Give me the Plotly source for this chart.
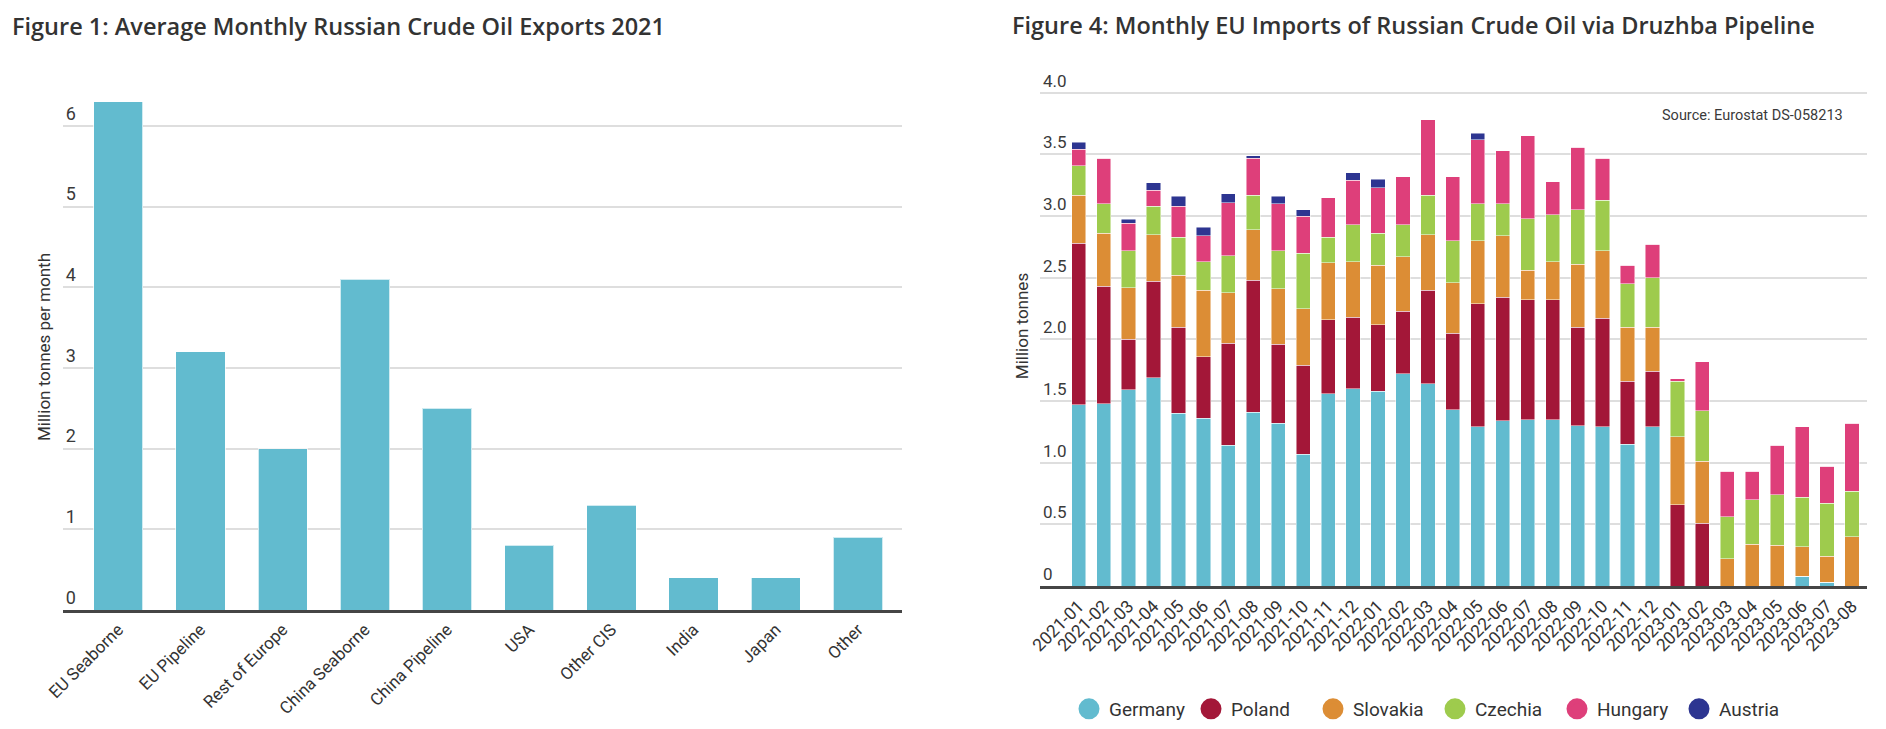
import plotly.graph_objects as go

# page body has an 8px default margin; the figure is sized to fit inside it
OX, OY = 8, 8
FW, FH = 1870, 713


def px(x):
    return (x - OX) / FW


def py(y):
    return 1 - (y - OY) / FH


# ---------------- Figure 1 data ----------------
destinations = ["EU Seaborne", "EU Pipeline", "Rest of Europe", "China Seaborne",
                "China Pipeline", "USA", "Other CIS", "India", "Japan", "Other"]
exports_2021 = [6.3, 3.2, 2.0, 4.1, 2.5, 0.8, 1.3, 0.4, 0.4, 0.9]
fig1_ticks = [0, 1, 2, 3, 4, 5, 6]
fig1_ticklabels = ["0", "1", "2", "3", "4", "5", "6"]

# ---------------- Figure 4 data ----------------
months = ["2021-01", "2021-02", "2021-03", "2021-04", "2021-05", "2021-06", "2021-07", "2021-08",
          "2021-09", "2021-10", "2021-11", "2021-12", "2022-01", "2022-02", "2022-03", "2022-04",
          "2022-05", "2022-06", "2022-07", "2022-08", "2022-09", "2022-10", "2022-11", "2022-12",
          "2023-01", "2023-02", "2023-03", "2023-04", "2023-05", "2023-06", "2023-07", "2023-08"]
germany = [1.47, 1.48, 1.59, 1.69, 1.40, 1.36, 1.14, 1.41, 1.32, 1.07, 1.56, 1.60, 1.58, 1.72, 1.64, 1.43,
           1.29, 1.34, 1.35, 1.35, 1.30, 1.29, 1.15, 1.29, 0, 0, 0, 0, 0, 0.08, 0.03, 0]
poland = [1.31, 0.95, 0.41, 0.78, 0.70, 0.50, 0.83, 1.07, 0.64, 0.72, 0.60, 0.58, 0.54, 0.51, 0.76, 0.62,
          1.00, 1.00, 0.97, 0.97, 0.80, 0.88, 0.51, 0.45, 0.66, 0.51, 0, 0, 0, 0, 0, 0]
slovakia = [0.39, 0.43, 0.42, 0.38, 0.42, 0.54, 0.41, 0.41, 0.45, 0.46, 0.46, 0.45, 0.48, 0.44, 0.45, 0.41,
            0.51, 0.50, 0.24, 0.31, 0.51, 0.55, 0.44, 0.36, 0.55, 0.50, 0.22, 0.34, 0.33, 0.24, 0.21, 0.40]
czechia = [0.24, 0.24, 0.30, 0.23, 0.31, 0.23, 0.30, 0.28, 0.31, 0.45, 0.21, 0.30, 0.26, 0.26, 0.32, 0.34,
           0.30, 0.26, 0.42, 0.38, 0.44, 0.41, 0.35, 0.40, 0.45, 0.41, 0.34, 0.36, 0.41, 0.40, 0.43, 0.37]
hungary = [0.13, 0.37, 0.22, 0.13, 0.25, 0.21, 0.43, 0.30, 0.38, 0.30, 0.32, 0.36, 0.37, 0.39, 0.61, 0.52,
           0.52, 0.43, 0.67, 0.27, 0.51, 0.34, 0.15, 0.27, 0.02, 0.40, 0.37, 0.23, 0.40, 0.57, 0.30, 0.55]
austria = [0.06, 0, 0.035, 0.06, 0.08, 0.07, 0.07, 0.02, 0.06, 0.05, 0, 0.06, 0.07, 0, 0, 0,
           0.05, 0, 0, 0, 0, 0, 0, 0, 0, 0, 0, 0, 0, 0, 0, 0]
countries = ["Germany", "Poland", "Slovakia", "Czechia", "Hungary", "Austria"]
country_values = [germany, poland, slovakia, czechia, hungary, austria]
country_colors = ["#62bbcf", "#a31738", "#dc8d35", "#9ecb4d", "#de3f7a", "#2d3591"]
fig4_ticks = [0, 0.5, 1.0, 1.5, 2.0, 2.5, 3.0, 3.5, 4.0]
fig4_ticklabels = ["0", "0.5", "1.0", "1.5", "2.0", "2.5", "3.0", "3.5", "4.0"]

FONT = "Roboto"
TITLE_FONT = "Open Sans"
TXT = "#333333"
GRID = "#dedede"
AXIS = "#454545"

fig = go.Figure()

fig.add_trace(go.Bar(
    x=destinations, y=exports_2021, width=0.6,
    marker=dict(color="#62bbcf", line=dict(color="rgba(255,255,255,0.7)", width=1)),
    xaxis="x", yaxis="y", showlegend=False, name="Exports"))

for name, vals, col in zip(countries, country_values, country_colors):
    fig.add_trace(go.Bar(
        x=months, y=vals, width=0.57, name=name, legendgroup=name,
        marker=dict(color=col, line=dict(color="rgba(255,255,255,0.6)", width=0.8)),
        xaxis="x2", yaxis="y2", showlegend=False))
    fig.add_trace(go.Scatter(
        x=[None], y=[None], mode="markers", name=name, legendgroup=name,
        marker=dict(size=16, color=col, line=dict(color=col, width=5)),
        xaxis="x2", yaxis="y2", showlegend=True))

fig.update_layout(
    width=FW, height=FH, autosize=False,
    margin=dict(l=0, r=0, t=0, b=0, pad=0, autoexpand=False),
    paper_bgcolor="white", plot_bgcolor="white",
    barmode="stack",
    font=dict(family=FONT, color=TXT, size=16),
    xaxis=dict(domain=[px(62.7), px(902)], type="category", range=[-0.676, 9.535],
               tickangle=-45, tickfont=dict(size=17, color=TXT), ticks="",
               showline=True, linecolor=AXIS, linewidth=3, showgrid=False,
               automargin=False, fixedrange=True),
    yaxis=dict(domain=[py(610), py(84)], range=[0, 6.52],
               tickvals=fig1_ticks, ticktext=fig1_ticklabels,
               ticklabelposition="inside top", tickfont=dict(size=18, color="#3a3a3a"),
               ticks="", showgrid=True, gridcolor=GRID, gridwidth=1.5, zeroline=False,
               automargin=False,
               title=dict(text="Million tonnes per month", font=dict(size=17, color=TXT), standoff=10)),
    xaxis2=dict(domain=[px(1040), px(1867)], type="category", range=[-1.55, 31.6],
                tickangle=-45, tickfont=dict(size=17.5, color=TXT), ticks="",
                showline=True, linecolor=AXIS, linewidth=3, showgrid=False, anchor="y2",
                automargin=False),
    yaxis2=dict(domain=[py(586), py(66)], range=[0, 4.217], anchor="x2",
                tickvals=fig4_ticks, ticktext=fig4_ticklabels,
                ticklabelposition="inside top", tickfont=dict(size=17, color="#3a3a3a"),
                ticks="", showgrid=True, gridcolor=GRID, gridwidth=1.5, zeroline=False,
                automargin=False,
                title=dict(text="Million tonnes", font=dict(size=17, color=TXT), standoff=10)),
    legend=dict(orientation="h", x=px(1435), xanchor="center", y=py(709), yanchor="middle",
                font=dict(size=19, color=TXT), bgcolor="rgba(0,0,0,0)", traceorder="normal",
                entrywidth=77, entrywidthmode="pixels"),
    annotations=[
        dict(text="Figure 1: Average Monthly Russian Crude Oil Exports 2021",
             xref="paper", yref="paper", x=px(10), y=py(26.5), xanchor="left", yanchor="middle",
             showarrow=False, font=dict(size=23.5, color="#333333", family=TITLE_FONT, weight=600)),
        dict(text="Figure 4: Monthly EU Imports of Russian Crude Oil via Druzhba Pipeline",
             xref="paper", yref="paper", x=px(1010), y=py(24.5), xanchor="left", yanchor="middle",
             showarrow=False, font=dict(size=23.5, color="#333333", family=TITLE_FONT, weight=600)),
        dict(text="Source: Eurostat DS-058213",
             xref="paper", yref="paper", x=px(1845), y=py(115.7), xanchor="right", yanchor="middle",
             showarrow=False, font=dict(size=14.5, color="#3a3a3a", family=FONT)),
    ],
)

fig.write_html("out.html")
